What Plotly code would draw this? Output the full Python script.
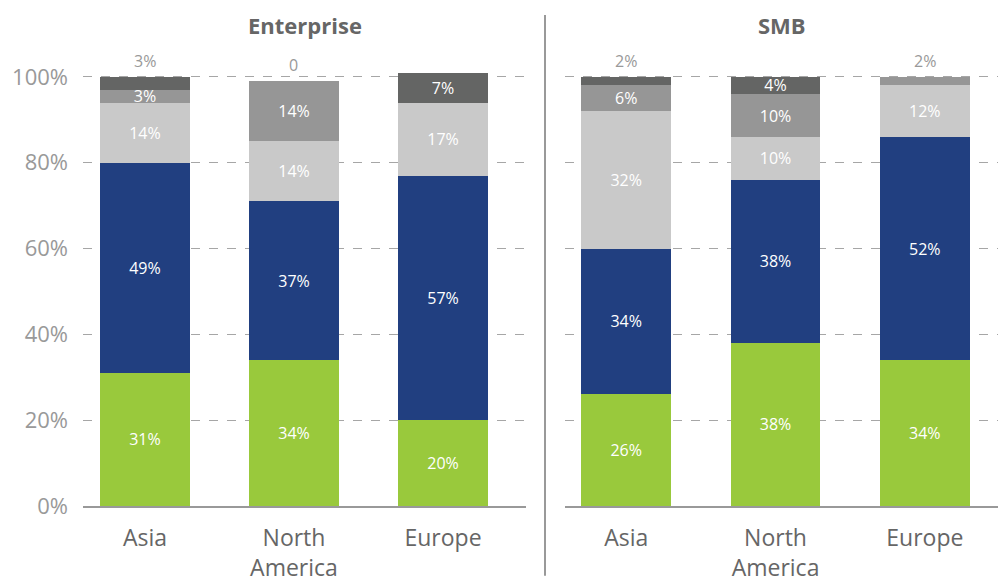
import plotly.graph_objects as go

categories = ["Asia", "North<br>America", "Europe"]

ent_green = [31, 34, 20]
ent_blue = [49, 37, 57]
ent_light = [14, 14, 17]
ent_mid = [3, 14, 0]
ent_dark = [3, 0, 7]
ent_top_labels = ["3%", "0", ""]

smb_green = [26, 38, 34]
smb_blue = [34, 38, 52]
smb_light = [32, 10, 12]
smb_mid = [6, 10, 2]
smb_dark = [2, 4, 0]
smb_top_labels = ["2%", "", "2%"]

y_ticks = [0, 20, 40, 60, 80, 100]
y_tick_text = ["0%", "20%", "40%", "60%", "80%", "100%"]

colors = ["#99c93c", "#213f80", "#c9c9c9", "#969696", "#646564"]
FONT = "Open Sans"

fig = go.Figure()


def add_panel(series, top_labels, xa, ya):
    n = len(categories)
    topmost = []
    for i in range(n):
        idx = 0
        for s, vals in enumerate(series):
            if vals[i] > 0:
                idx = s
        topmost.append(idx)
    for s, vals in enumerate(series):
        texts = []
        for i, v in enumerate(vals):
            if v <= 0 or (topmost[i] == s and v < 4):
                texts.append("")
            else:
                texts.append(f"{v}%")
        fig.add_trace(go.Bar(
            x=categories, y=vals, marker_color=colors[s], marker_line_width=0,
            width=0.6, text=texts, textposition="inside", insidetextanchor="middle",
            textangle=0, textfont=dict(color="white", size=16, family=FONT),
            cliponaxis=False,
            xaxis=xa, yaxis=ya, showlegend=False, hoverinfo="skip"))
    for i in range(n):
        total = sum(vals[i] for vals in series)
        if top_labels[i]:
            fig.add_annotation(x=categories[i], y=total, text=top_labels[i],
                               xref=xa, yref=ya, showarrow=False, yanchor="bottom",
                               yshift=3, font=dict(color="#999999", size=16, family=FONT))


add_panel([ent_green, ent_blue, ent_light, ent_mid, ent_dark], ent_top_labels, "x", "y")
add_panel([smb_green, smb_blue, smb_light, smb_mid, smb_dark], smb_top_labels, "x2", "y2")

yax = dict(range=[0, 110], tickmode="array", tickvals=y_ticks, showgrid=True,
           gridcolor="#a6a6a6", griddash="dash", gridwidth=1, zeroline=False,
           showline=False, fixedrange=True)
xax = dict(showline=True, linecolor="#999999", linewidth=2, showgrid=False,
           ticks="", tickfont=dict(size=23, color="#666666", family=FONT),
           ticklabelstandoff=10)

fig.update_layout(
    width=998, height=583, barmode="stack", bargap=0.4,
    plot_bgcolor="white", paper_bgcolor="white",
    margin=dict(l=0, r=0, t=34, b=75),
    font=dict(family=FONT),
    uniformtext=dict(minsize=16, mode="show"),
    xaxis=dict(domain=[83 / 998, 526 / 998], range=[-0.416, 2.557], **xax),
    xaxis2=dict(domain=[565 / 998, 1.0], range=[-0.41, 2.49], anchor="y2", **xax),
    yaxis=dict(ticktext=y_tick_text, tickfont=dict(size=22, color="#999999", family=FONT),
               ticklabelstandoff=14, **yax),
    yaxis2=dict(anchor="x2", showticklabels=False, **yax),
)

fig.add_annotation(x=(83 + 526) / 2 / 998, y=(508 - 25) / 474, xref="paper", yref="paper",
                   text="<b>Enterprise</b>", showarrow=False, yanchor="middle",
                   xanchor="center", font=dict(size=22, color="#666666", family=FONT))
fig.add_annotation(x=(565 + 998) / 2 / 998, y=(508 - 25) / 474, xref="paper", yref="paper",
                   text="<b>SMB</b>", showarrow=False, yanchor="middle",
                   xanchor="center", font=dict(size=22, color="#666666", family=FONT))

fig.add_shape(type="line", xref="paper", yref="paper",
              x0=545 / 998, x1=545 / 998, y0=(508 - 15) / 474, y1=(508 - 578) / 474,
              line=dict(color="#999999", width=2))

fig.write_html("out.html")
